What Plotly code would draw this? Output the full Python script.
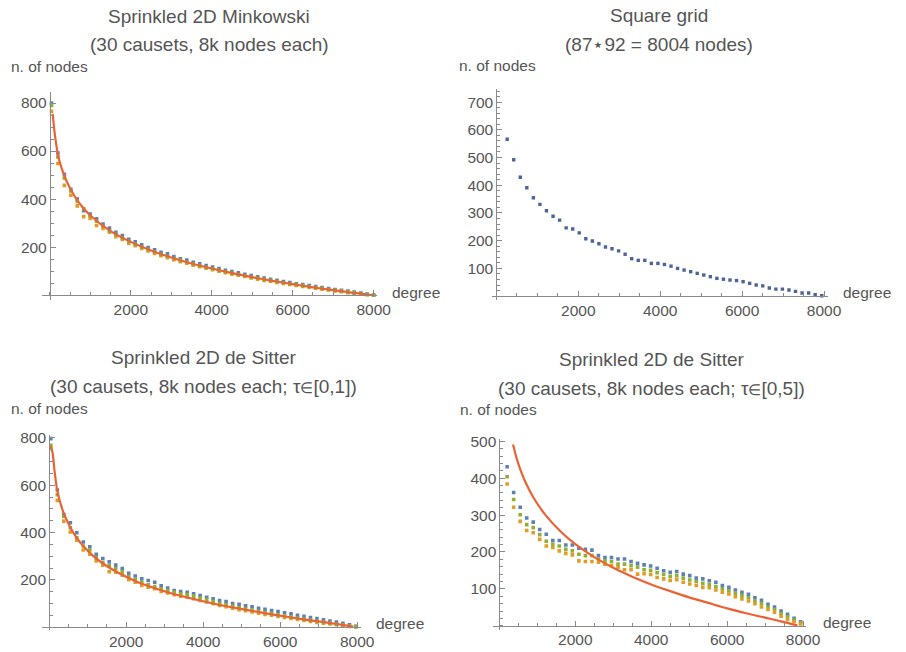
import plotly.graph_objects as go

# ---------------- data ----------------
# Panel 1: Sprinkled 2D Minkowski
mink_x = [40, 199, 358, 518, 677, 836, 995, 1154, 1314, 1473, 1632, 1791, 1950, 2110, 2269,
          2428, 2587, 2746, 2906, 3065, 3224, 3383, 3542, 3702, 3861, 4020, 4179, 4338, 4498,
          4657, 4816, 4975, 5134, 5294, 5453, 5612, 5771, 5930, 6090, 6249, 6408, 6567, 6726,
          6886, 7045, 7204, 7363, 7522, 7682, 7841, 8000]
mink_blue = [800, 592, 503, 441, 400, 352, 338, 318, 296, 280, 262, 248, 233, 222, 210, 198, 189,
             179, 172, 161, 152, 146, 137, 131, 124, 117, 111, 104, 99, 93, 87, 82, 77, 71, 66, 62,
             57, 53, 48, 44, 40, 36, 32, 28, 24, 20, 17, 13, 9, 5, 1]
mink_green = [790, 575, 488, 434, 390, 360, 330, 308, 287, 268, 252, 238, 224, 212, 200, 190, 180,
              170, 161, 152, 145, 137, 130, 123, 116, 110, 104, 98, 92, 86, 81, 76, 71, 66, 61, 57,
              52, 48, 44, 40, 35, 32, 28, 24, 20, 17, 13, 10, 6, 3, 1]
mink_yellow = [765, 548, 457, 416, 372, 327, 320, 290, 278, 262, 244, 232, 216, 206, 195, 184, 174,
               165, 156, 148, 140, 133, 125, 119, 112, 106, 100, 94, 88, 83, 78, 72, 67, 62, 58, 53,
               49, 45, 41, 37, 33, 29, 25, 22, 18, 15, 11, 8, 5, 2, 0]
mink_fit_x = [70, 130, 226, 400, 600, 800, 1000, 1500, 2000, 2500, 3000, 3500, 4000, 4500, 5000,
              5500, 6000, 6500, 7000, 7500, 7800, 8000]
mink_fit_y = [755, 660, 565, 480, 415, 368, 332, 267, 222, 186, 157, 132, 111, 92, 75, 60, 46, 33,
              21, 10, 4, 0]

# Panel 2: Square grid
grid_x = [264, 424, 584, 744, 904, 1064, 1224, 1384, 1544, 1704, 1864, 2024, 2184, 2344, 2504,
          2664, 2824, 2984, 3144, 3304, 3464, 3624, 3784, 3944, 4104, 4264, 4424, 4584, 4744,
          4904, 5064, 5224, 5384, 5544, 5704, 5864, 6024, 6184, 6344, 6504, 6664, 6824, 6984,
          7144, 7304, 7464, 7624, 7784, 7944]
grid_y = [566, 492, 429, 391, 355, 331, 308, 288, 274, 246, 242, 228, 207, 199, 189, 177, 171, 163,
          151, 135, 129, 129, 118, 118, 114, 108, 100, 94, 88, 82, 76, 70, 64, 61, 58, 56, 52, 46,
          40, 37, 29, 25, 25, 22, 17, 11, 11, 5, 1]

# Panel 3: Sprinkled 2D de Sitter, tau in [0,1]
ds1_x = [43, 212, 380, 549, 717, 886, 1055, 1223, 1392, 1560, 1729, 1898, 2066, 2235, 2404, 2572,
         2741, 2909, 3078, 3247, 3415, 3584, 3752, 3921, 4090, 4258, 4427, 4595, 4764, 4933, 5101,
         5270, 5439, 5607, 5776, 5944, 6113, 6282, 6450, 6619, 6787, 6956, 7125, 7293, 7462, 7630,
         7799, 7967]
ds1_blue = [797, 580, 476, 441, 399, 360, 340, 308, 290, 276, 262, 248, 228, 216, 204, 197, 190,
            175, 165, 155, 150, 147, 141, 134, 126, 120, 112, 108, 100, 96, 90, 86, 80, 75, 70, 66,
            61, 56, 50, 46, 41, 36, 31, 26, 21, 16, 10, 4]
ds1_green = [769, 560, 469, 420, 378, 343, 326, 294, 273, 259, 248, 234, 214, 201, 189, 179, 172,
             162, 155, 148, 141, 137, 131, 123, 117, 108, 100, 94, 88, 82, 77, 72, 67, 62, 57, 52,
             47, 43, 38, 34, 29, 25, 21, 17, 13, 9, 5, 2]
ds1_yellow = [755, 536, 448, 402, 368, 326, 308, 280, 262, 234, 232, 220, 201, 190, 176, 169, 162,
              151, 145, 137, 131, 127, 120, 113, 106, 99, 92, 86, 80, 74, 69, 64, 59, 54, 50, 45,
              41, 37, 32, 28, 24, 20, 17, 13, 10, 7, 3, 1]
ds1_fit_x = [45, 90, 140, 213, 383, 724, 1150, 1575, 2000, 2427, 3278, 4258, 4938, 5789, 6641, 7492, 7900]
ds1_fit_y = [765, 735, 660, 575, 480, 375, 300, 250, 213, 182, 138, 100, 78, 54, 32, 13, 2]

# Panel 4: Sprinkled 2D de Sitter, tau in [0,5]
ds5_x = [204, 376, 548, 719, 891, 1063, 1235, 1407, 1578, 1750, 1922, 2094, 2266, 2437, 2609, 2781,
         2953, 3125, 3296, 3468, 3640, 3812, 3984, 4155, 4327, 4499, 4671, 4843, 5014, 5186, 5358,
         5530, 5702, 5873, 6045, 6217, 6389, 6561, 6732, 6904, 7076, 7248, 7420, 7591, 7763, 7935]
ds5_blue = [431, 361, 321, 292, 281, 261, 248, 231, 231, 219, 219, 210, 207, 205, 190, 185, 185,
            181, 181, 174, 169, 165, 162, 156, 149, 145, 147, 140, 136, 129, 127, 122, 118, 109,
            104, 97, 91, 85, 76, 69, 58, 51, 40, 31, 20, 11]
ds5_green = [404, 342, 301, 274, 266, 247, 229, 221, 216, 207, 203, 194, 190, 190, 181, 176, 174,
             167, 167, 163, 159, 152, 150, 144, 139, 134, 136, 129, 124, 120, 115, 112, 106, 100,
             95, 88, 82, 76, 67, 60, 51, 44, 33, 24, 15, 8]
ds5_yellow = [384, 321, 283, 258, 252, 234, 216, 212, 203, 196, 192, 176, 174, 174, 172, 167, 163,
              159, 152, 152, 140, 141, 139, 131, 127, 123, 125, 118, 113, 109, 104, 103, 97, 91,
              86, 79, 73, 67, 60, 51, 44, 37, 26, 17, 11, 5]
ds5_fit_x = [360, 450, 550, 700, 900, 1200, 1600, 2000, 2500, 3000, 3500, 4000, 4500, 5000, 5500,
             6000, 6500, 7000, 7500, 7850]
ds5_fit_y = [491, 455, 424, 386, 347, 302, 257, 221, 186, 157, 133, 112, 94, 77, 62, 47, 34, 22,
             10, 1]

x_tick_vals = [2000, 4000, 6000, 8000]
y_ticks_a = [200, 400, 600, 800]
y_ticks_b = [100, 200, 300, 400, 500, 600, 700]
y_ticks_c = [100, 200, 300, 400, 500]

ELEM = '<span style="font-size:15px">∈</span>'
titles = [("Sprinkled 2D Minkowski", "(30 causets, 8k nodes each)"),
          ("Square grid", "(87⋆92 = 8004 nodes)"),
          ("Sprinkled 2D de Sitter", "(30 causets, 8k nodes each; τ" + ELEM + "[0,1])"),
          ("Sprinkled 2D de Sitter", "(30 causets, 8k nodes each; τ" + ELEM + "[0,5])")]

# ---------------- styling ----------------
W, H = 906, 652
FONT = "Liberation Sans, Arial, Helvetica, sans-serif"
TXT = "#555555"
AX = "#8a8a8a"
BLUE, GREEN, YELLOW, RED = "#5E81B5", "#8FB032", "#E19C24", "#EB6235"

# pixel boxes: (left, right, xmin, xmax, top, bottom, ymin, ymax)
boxes = [
    (43, 383, -187, 8075, 87, 297, -21, 845),
    (500, 841.7, -113, 8091, 83.3, 296.7, -14, 749),
    (43, 366.7, -179, 8090, 433.3, 630, -13, 811),
    (501.7, 820, -158, 8088, 436.7, 630, -12, 507),
]
ytick_sets = [(y_ticks_a, 50), (y_ticks_b, 20), (y_ticks_a, 50), (y_ticks_c, 20)]

fig = go.Figure()

def add_points(i, xs, ys, color, size=3.6):
    fig.add_trace(go.Scatter(x=xs, y=ys, mode="markers", xaxis=f"x{i}", yaxis=f"y{i}",
                             marker=dict(symbol="square", size=size, color=color, line=dict(width=0)),
                             showlegend=False, hoverinfo="skip"))

def add_fit(i, xs, ys):
    fig.add_trace(go.Scatter(x=xs, y=ys, mode="lines", xaxis=f"x{i}", yaxis=f"y{i}",
                             line=dict(color=RED, width=2.2, shape="spline", smoothing=0.8),
                             showlegend=False, hoverinfo="skip"))

add_points(1, mink_x, mink_blue, BLUE)
add_points(1, mink_x, mink_yellow, YELLOW)
add_points(1, mink_x, mink_green, GREEN)
add_fit(1, mink_fit_x, mink_fit_y)

add_points(2, grid_x, grid_y, "#4c6597", size=3.4)

add_points(3, ds1_x, ds1_blue, BLUE)
add_points(3, ds1_x, ds1_yellow, YELLOW)
add_points(3, ds1_x, ds1_green, GREEN)
add_fit(3, ds1_fit_x, ds1_fit_y)

add_points(4, ds5_x, ds5_blue, BLUE)
add_points(4, ds5_x, ds5_green, GREEN)
add_points(4, ds5_x, ds5_yellow, YELLOW)
add_fit(4, ds5_fit_x, ds5_fit_y)

layout = dict(width=W, height=H, margin=dict(l=0, r=0, t=0, b=0),
              paper_bgcolor="white", plot_bgcolor="white",
              font=dict(family=FONT, color=TXT), showlegend=False)
annotations = []
for k, (l, r, x0, x1, t, b, y0, y1) in enumerate(boxes):
    i = k + 1
    dx = [l / W, r / W]
    dy = [1 - b / H, 1 - t / H]
    ypos0 = dy[0] + (0 - y0) / (y1 - y0) * (dy[1] - dy[0])
    xpos0 = dx[0] + (0 - x0) / (x1 - x0) * (dx[1] - dx[0])
    yt, ymin = ytick_sets[k]
    sfx = "" if i == 1 else str(i)
    layout["xaxis" + sfx] = dict(
        domain=dx, range=[x0, x1], anchor="free", position=ypos0,
        showline=True, linecolor=AX, linewidth=1, showgrid=False, zeroline=False,
        ticks="inside", ticklen=5, tickwidth=1, tickcolor=AX,
        tickmode="array", tickvals=x_tick_vals, ticktext=[str(v) for v in x_tick_vals],
        tickfont=dict(size=15.5, color=TXT, family=FONT),
        minor=dict(dtick=500, tick0=0, ticks="inside", ticklen=3, tickcolor=AX, showgrid=False),
    )
    layout["yaxis" + sfx] = dict(
        domain=dy, range=[y0, y1], anchor="free", position=xpos0,
        showline=True, linecolor=AX, linewidth=1, showgrid=False, zeroline=False,
        ticks="inside", ticklen=5, tickwidth=1, tickcolor=AX,
        tickmode="array", tickvals=yt, ticktext=[str(v) for v in yt],
        tickfont=dict(size=15.5, color=TXT, family=FONT),
        minor=dict(dtick=ymin, tick0=0, ticks="inside", ticklen=3, tickcolor=AX, showgrid=False),
    )

title_pos = [(213, 11, 39), (670, 10, 39), (207, 355, 384), (662, 357, 386)]
ylabel_pos = [(9, 61), (465, 60), (9, 406), (466, 407)]
xlabel_pos = [(397, 289), (855, 289), (380, 623), (835, 622)]

for k in range(4):
    cx, y1p, y2p = title_pos[k]
    for txt, yp in ((titles[k][0], y1p), (titles[k][1], y2p)):
        annotations.append(dict(text=txt, x=cx / W, y=1 - yp / H, xref="paper", yref="paper",
                                xanchor="center", yanchor="middle", showarrow=False,
                                font=dict(size=19, color=TXT, family=FONT)))
    lx, ly = ylabel_pos[k]
    annotations.append(dict(text="n. of nodes", x=lx / W, y=1 - ly / H, xref="paper", yref="paper",
                            xanchor="left", yanchor="middle", showarrow=False,
                            font=dict(size=15.5, color=TXT, family=FONT)))
    gx, gy = xlabel_pos[k]
    annotations.append(dict(text="degree", x=gx / W, y=1 - gy / H, xref="paper", yref="paper",
                            xanchor="left", yanchor="middle", showarrow=False,
                            font=dict(size=15.5, color=TXT, family=FONT)))

layout["annotations"] = annotations
fig.update_layout(**layout)
fig.write_html("out.html")
